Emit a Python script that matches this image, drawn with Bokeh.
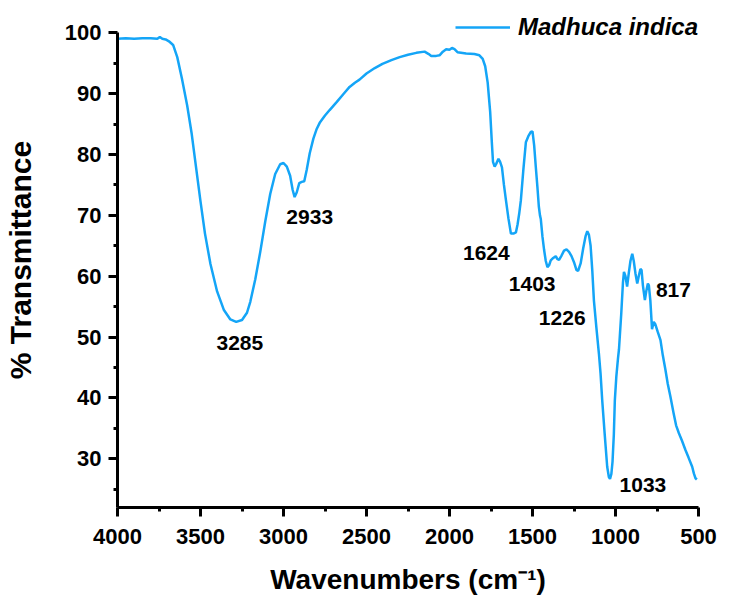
from bokeh.plotting import figure
from bokeh.models import Range1d, FixedTicker, Legend, LegendItem
from bokeh.core.properties import value
from bokeh.embed import file_html
from bokeh.resources import INLINE

# ---- data ----
wavenumber = [4000, 3950, 3900, 3850, 3800, 3760, 3745, 3730, 3710, 3690, 3665, 3640, 3612, 3580, 3553,
              3525, 3500, 3473, 3440, 3400, 3360, 3320, 3285, 3250, 3220, 3200, 3170, 3140, 3110, 3080,
              3050, 3020, 3000, 2980, 2960, 2945, 2933, 2920, 2905, 2890, 2875, 2860, 2842, 2820, 2800,
              2782, 2750, 2722, 2680, 2640, 2602, 2570, 2542, 2500, 2450, 2404, 2350, 2300, 2250, 2200,
              2150, 2125, 2110, 2080, 2060, 2040, 2020, 2000, 1985, 1970, 1952, 1900, 1850, 1820, 1800,
              1785, 1770, 1755, 1745, 1738, 1728, 1718, 1705, 1695, 1684, 1672, 1660, 1645, 1630, 1615,
              1600, 1590, 1580, 1570, 1555, 1540, 1525, 1510, 1500, 1490, 1480, 1470, 1462, 1455, 1450,
              1440, 1430, 1420, 1410, 1400, 1390, 1375, 1360, 1350, 1340, 1325, 1310, 1295, 1280, 1265,
              1250, 1235, 1225, 1210, 1195, 1180, 1170, 1160, 1150, 1140, 1130, 1115, 1100, 1090, 1080,
              1065, 1050, 1040, 1033, 1025, 1018, 1010, 1004, 995, 985, 979, 965, 955, 949, 940,
              930, 920, 910, 899, 890, 880, 869, 860, 850, 843, 835, 823, 815, 805, 799,
              790, 780, 770, 760, 745, 729, 715, 699, 685, 669, 650, 635, 618, 600, 578,
              560, 538, 528, 518, 510]
transmittance = [99.0, 99.1, 99.0, 99.1, 99.1, 99.0, 99.3, 99.0, 98.9, 98.6, 98.0, 96.0, 92.5, 88.0, 83.4,
                 77.5, 72.3, 67.0, 62.0, 57.5, 54.5, 52.9, 52.5, 52.8, 54.0, 55.8, 59.5, 64.0, 69.0, 73.5,
                 76.8, 78.4, 78.6, 78.0, 76.5, 74.2, 73.0, 73.8, 75.3, 75.5, 75.6, 77.5, 80.2, 82.6, 84.2,
                 85.2, 86.4, 87.3, 88.6, 89.9, 91.1, 91.8, 92.3, 93.3, 94.2, 94.9, 95.5, 96.0, 96.4, 96.7,
                 96.9, 96.5, 96.2, 96.2, 96.3, 96.9, 97.3, 97.2, 97.5, 97.3, 96.8, 96.6, 96.5, 96.3, 95.7,
                 94.5, 91.8, 87.0, 82.0, 78.8, 78.0, 78.5, 79.3, 78.8, 77.9, 75.0, 72.5, 69.5, 67.0, 67.0,
                 67.2, 68.5, 70.3, 72.5, 77.5, 82.0, 83.0, 83.7, 83.8, 81.5, 77.9, 74.5, 71.5, 70.0, 69.4,
                 66.5, 64.3, 62.5, 61.5, 61.8, 62.6, 63.0, 63.3, 62.8, 62.7, 63.4, 64.2, 64.4, 64.0, 63.3,
                 62.3, 61.0, 60.9, 62.1, 64.5, 66.6, 67.4, 66.8, 65.0, 61.0, 56.0, 51.5, 47.3, 44.0, 39.6,
                 34.0, 28.7, 27.0, 26.7, 27.5, 29.5, 34.0, 39.6, 43.5, 46.5, 48.0, 54.0, 59.0, 60.7, 60.0,
                 58.3, 60.5, 62.5, 63.7, 62.5, 60.5, 58.8, 60.0, 61.2, 61.0, 58.5, 56.1, 57.5, 58.8, 58.5,
                 56.0, 51.3, 52.5, 52.1, 50.8, 49.5, 47.0, 44.6, 42.3, 40.2, 37.5, 35.5, 34.2, 33.0, 31.4,
                 30.2, 28.7, 27.6, 26.8, 26.6]

series_name = "Madhuca indica"

peak_labels = ["3285", "2933", "1624", "1403", "1226", "817", "1033"]
peak_label_x = [3263, 2842, 1778, 1502, 1321, 651, 835]
peak_label_y = [49.1, 69.7, 63.8, 58.8, 53.2, 57.7, 25.7]

x_ticks = [4000, 3500, 3000, 2500, 2000, 1500, 1000, 500]
x_minor = [3750, 3250, 2750, 2250, 1750, 1250, 750]
y_ticks = [30, 40, 50, 60, 70, 80, 90, 100]
y_minor = [25, 35, 45, 55, 65, 75, 85, 95]

FONT = "Liberation Sans"
LINE_COLOR = "#14A5F7"

# frame reaches a little above 100 so the legend fits inside it; the y axis itself stops at 100
p = figure(width=735, height=600, output_backend="svg", toolbar_location=None,
           x_range=Range1d(4000, 500), y_range=Range1d(22, 103.33),
           min_border_left=117, min_border_right=37, min_border_top=12, min_border_bottom=93)
p.outline_line_color = None
p.xgrid.visible = False
p.ygrid.visible = False
p.background_fill_color = "white"
p.border_fill_color = "white"

r = p.line(wavenumber, transmittance, line_color=LINE_COLOR, line_width=2.5)

p.text(x=peak_label_x, y=peak_label_y, text=peak_labels, text_font=value(FONT),
       text_font_style="bold", text_font_size="21px", text_align="center",
       text_baseline="middle", text_color="black")

for ax in (p.xaxis[0], p.yaxis[0]):
    ax.axis_line_width = 3
    ax.axis_line_color = "black"
    ax.major_tick_line_width = 3
    ax.minor_tick_line_width = 3
    ax.major_tick_line_color = "black"
    ax.minor_tick_line_color = "black"
    ax.major_tick_out = 9
    ax.major_tick_in = 0
    ax.minor_tick_out = 4
    ax.minor_tick_in = 0
    ax.major_label_text_font = FONT
    ax.major_label_text_font_style = "bold"
    ax.major_label_text_font_size = "22px"
    ax.major_label_text_color = "black"
    ax.axis_label_text_font = FONT
    ax.axis_label_text_font_style = "bold"
    ax.axis_label_text_color = "black"

p.xaxis.ticker = FixedTicker(ticks=x_ticks, minor_ticks=x_minor)
p.yaxis.ticker = FixedTicker(ticks=y_ticks, minor_ticks=y_minor)
p.yaxis.bounds = (22, 100)
p.xaxis.major_label_standoff = 12
p.yaxis.major_label_standoff = 7

p.yaxis.axis_label = "% Transmittance"
p.yaxis.axis_label_text_font_size = "30px"
p.yaxis.axis_label_standoff = 25

p.xaxis.axis_label = "Wavenumbers (cm\u207b\u00b9)"
p.xaxis.axis_label_text_font_size = "28px"
p.xaxis.axis_label_standoff = 17

legend = Legend(items=[LegendItem(label=series_name, renderers=[r])], location=(338, 466),
                glyph_width=55, glyph_height=20, label_standoff=8, padding=0, margin=0,
                border_line_alpha=0, background_fill_alpha=0,
                label_text_font=FONT, label_text_font_style="bold italic",
                label_text_font_size="24px", label_text_color="black")
p.add_layout(legend)

open("out.html", "w").write(file_html(p, INLINE))
